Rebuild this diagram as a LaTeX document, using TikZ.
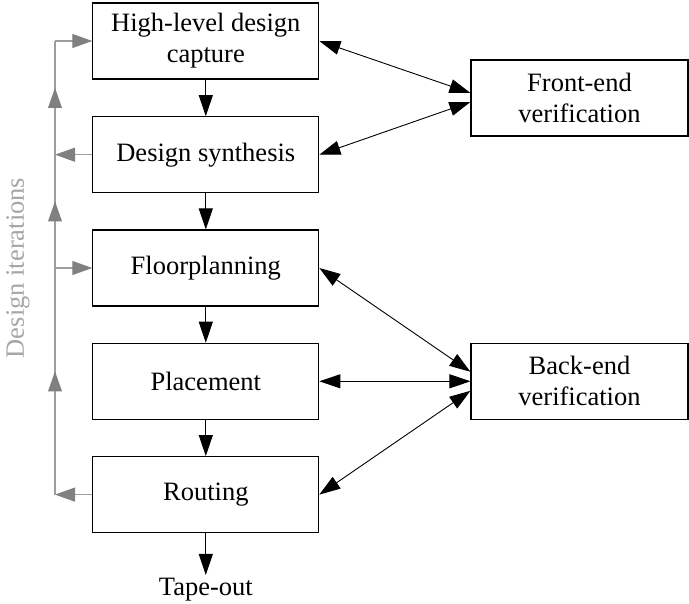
\documentclass[tikz,border=0pt]{standalone}
\usepackage{fontspec}
\setmainfont{Liberation Serif}
\usetikzlibrary{arrows.meta,decorations.markings}

\tikzset{
  stagebox/.style={draw=black, line width=1.1pt, minimum width=226pt, minimum height=76pt,
    align=center, inner sep=0pt},
  verifbox/.style={draw=black, line width=1.1pt, minimum width=217pt, minimum height=76pt,
    align=center, inner sep=0pt},
  flow/.style={draw=black, line width=0.9pt, -{Triangle[length=21pt,width=14pt]}},
  dual/.style={draw=black, line width=0.9pt, {Triangle[length=21pt,width=14pt]}-{Triangle[length=21pt,width=14pt]}},
  iter/.style={draw=black!38, line width=1.1pt},
  iterarrow/.style={iter, -{Triangle[length=20pt,width=14pt,fill=black!50,color=black!50]}},
  midup/.style={iter, postaction={decorate}, decoration={markings,
    mark=at position 0.5 with {\fill[black!50] (10pt,0pt) -- (-10pt,7pt) -- (-10pt,-7pt) -- cycle;}}},
}

\begin{document}
\begin{tikzpicture}[x=1pt, y=-1pt, font=\fontsize{26.5}{31}\selectfont]
  \useasboundingbox (0,0) rectangle (689,604);

  % design flow stages
  \node[stagebox] (hl)    at (205.8, 41.0)  {High-level design\\capture};
  \node[stagebox] (syn)   at (205.8, 154.7) {Design synthesis};
  \node[stagebox] (fp)    at (205.8, 268.0) {Floorplanning};
  \node[stagebox] (pl)    at (205.8, 381.3) {Placement};
  \node[stagebox] (rt)    at (205.8, 494.6) {Routing};
  \node (tape) at (205.8, 590) {Tape-out};

  % verification boxes
  \node[verifbox] (fe) at (579.5, 98.0)  {Front-end\\verification};
  \node[verifbox] (be) at (579.5, 381.3) {Back-end\\verification};

  % main flow
  \draw[flow] (hl) -- (syn);
  \draw[flow] (syn) -- (fp);
  \draw[flow] (fp) -- (pl);
  \draw[flow] (pl) -- (rt);
  \draw[flow] (rt) -- (tape.north);

  % verification links
  \draw[dual] (hl.east)  -- ([yshift=5pt]fe.west);
  \draw[dual] (syn.east) -- ([yshift=-4pt]fe.west);
  \draw[dual] (fp.east)  -- ([yshift=9.5pt]be.west);
  \draw[dual] (pl.east)  -- (be.west);
  \draw[dual] (rt.east)  -- ([yshift=-9.5pt]be.west);

  % design iteration loop
  \coordinate (j1) at (55, 41.0);
  \coordinate (j2) at (55, 154.7);
  \coordinate (j3) at (55, 268.0);
  \coordinate (j4) at (55, 494.6);

  \draw[iterarrow] (rt.west) -- (j4);
  \draw[iterarrow] (syn.west) -- (j2);
  \draw[midup] (j4) -- (j3);
  \draw[midup] (j3) -- (j2);
  \draw[midup] (j2) -- (j1);
  \draw[iterarrow] (j1) -- (hl.west);
  \draw[iterarrow] (j3) -- (fp.west);

  \node[text=black!35, rotate=90] (iterlabel) at (18, 268) {Design iterations};
\end{tikzpicture}
\end{document}
